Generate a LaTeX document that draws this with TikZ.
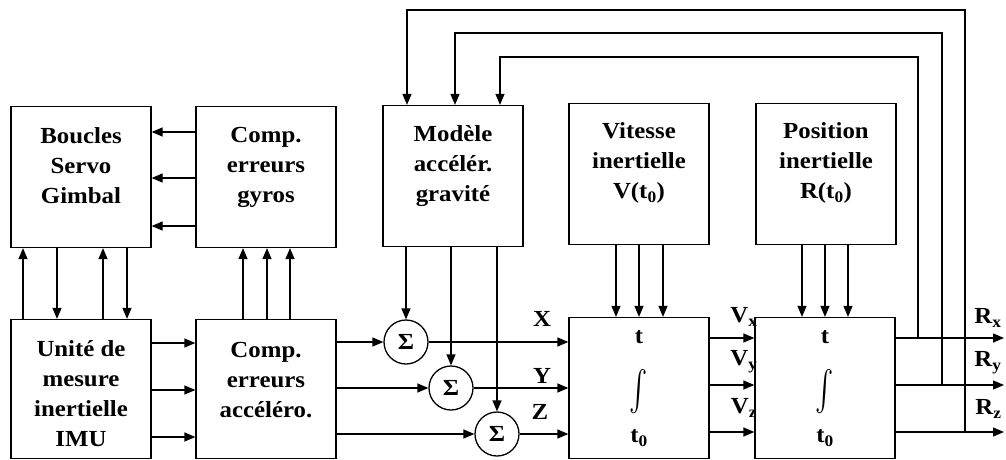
\documentclass[tikz,border=0pt]{standalone}
\usepackage{amsmath}
\usepackage{fontspec}
\setmainfont{Liberation Serif}[FakeStretch=1.08]
\usetikzlibrary{arrows.meta,calc}
\tikzset{>={Triangle[length=11pt,width=9pt]},every node/.style={font=\bfseries\fontsize{23}{30}\selectfont},
every label/.style={inner sep=0pt},
blk/.style={draw,line width=1.3pt,minimum width=140pt,minimum height=141pt,inner sep=0pt},
txt/.style={align=center,inner sep=0pt},
sig/.style={draw,circle,line width=1.3pt,minimum size=44pt,inner sep=0pt},
integr/.style={blk,label={[yshift=51pt]center:t},label={[yshift=-4pt]center:\scalebox{1.1}[1.6]{$\int$}},label={[yshift=-50pt]center:t\textsubscript{0}}},
flow/.style={line width=1.3pt,->}}

\begin{document}
\begin{tikzpicture}[x=1pt,y=-1pt]
\useasboundingbox (0,0) rectangle (1006,459);
% blocs du haut
\node[blk,label={[txt,yshift=11pt]center:{Boucles\\Servo\\Gimbal}}] (bou) at (81,177) {};
\node[blk,label={[txt,yshift=10pt]center:{Comp.\\erreurs\\gyros}}] (gyr) at (266,177) {};
\node[blk,label={[txt,yshift=10pt]center:{Modèle\\accélér.\\gravité}}] (mod) at (453,176) {};
\node[blk,label={[txt,yshift=11pt]center:{Vitesse\\inertielle\\V(t\textsubscript{0})}}] (vit) at (639,174) {};
\node[blk,label={[txt,yshift=11pt]center:{Position\\inertielle\\R(t\textsubscript{0})}}] (pos) at (826,174) {};
% blocs du bas
\node[blk,minimum height=139pt,label={[txt,yshift=-5pt]center:{Unité de\\mesure\\inertielle\\IMU}}] (imu) at (81,389) {};
\node[blk,minimum height=139pt,label={[txt,yshift=9pt]center:{Comp.\\erreurs\\accéléro.}}] (acc) at (266,389) {};
\node[integr] (int1) at (639,388) {};
\node[integr] (int2) at (825,388) {};
\node[sig] (s1) at (406,342) {Σ};\node[sig] (s2) at (451,388) {Σ};\node[sig] (s3) at (497,434) {Σ};
% liaisons
\foreach \y in {132,178,226} \draw[flow] (gyr.west|-0,\y) -- (bou.east|-0,\y);
\foreach \x in {23,103} \draw[flow] (imu.north-|\x,0) -- (bou.south-|\x,0);
\foreach \x in {57,127} \draw[flow] (bou.south-|\x,0) -- (imu.north-|\x,0);
\foreach \y in {343,390,437} \draw[flow] (imu.east|-0,\y) -- (acc.west|-0,\y);
\foreach \x in {243,267,290} \draw[flow] (acc.north-|\x,0) -- (gyr.south-|\x,0);
\foreach \s in {s1,s2,s3} {\draw[flow] (acc.east|-\s) -- (\s.west);\draw[flow] (mod.south-|\s) -- (\s.north);\draw[flow] (\s.east) -- (int1.west|-\s);}
\node (lx) at (542,319) {X};\node (ly) at (542,376) {Y};\node (lz) at (540,412) {Z};
\foreach \x in {616,639,663} \draw[flow] (vit.south-|\x,0) -- (int1.north-|\x,0);
\foreach \x in {802,825,848} \draw[flow] (pos.south-|\x,0) -- (int2.north-|\x,0);
\foreach \y in {338,385,432} \draw[flow] (int1.east|-0,\y) -- (int2.west|-0,\y);
\node (vx) at (744,317) {V\textsubscript{x}};\node (vy) at (744,362) {V\textsubscript{y}};\node (vz) at (744,408) {V\textsubscript{z}};
% sorties et retours
\coordinate (rx) at (1004,338);\coordinate (ry) at (1004,385);\coordinate (rz) at (1004,432);
\draw[flow] (int2.east|-rx) -- (rx);\draw[flow] (int2.east|-ry) -- (ry);\draw[flow] (int2.east|-rz) -- (rz);
\node[anchor=east] (lrx) at (1005,318) {R\textsubscript{x}};\node[anchor=east] (lry) at (1005,363) {R\textsubscript{y}};\node[anchor=east] (lrz) at (1005,409) {R\textsubscript{z}};
\coordinate (bx) at (918,338);\coordinate (by) at (942,385);\coordinate (bz) at (965,432);
\draw[flow] (bx) -- (918,57) -| (mod.north-|500,0);
\draw[flow] (by) -- (942,33) -| (mod.north-|455,0);
\draw[flow] (bz) -- (965,10) -| (mod.north-|407,0);
\end{tikzpicture}
\end{document}
